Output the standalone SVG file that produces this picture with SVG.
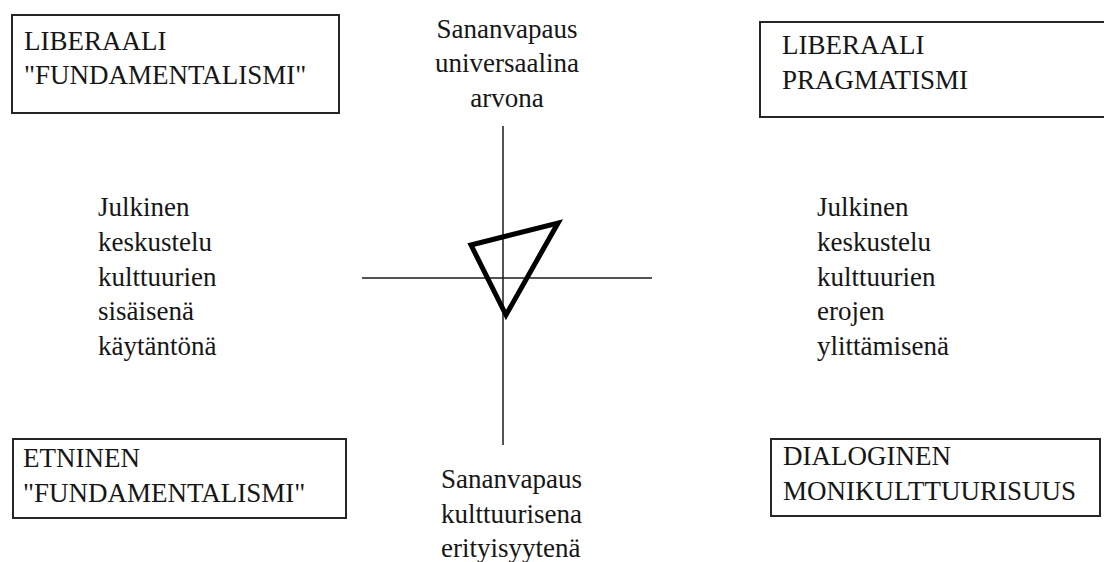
<svg xmlns="http://www.w3.org/2000/svg" width="1104" height="562" viewBox="0 0 1104 562">
<style>
text{font-size:27px;fill:#161616}
.box{fill:#fff;stroke:#262626;stroke-width:2}
.axis{stroke:#1a1a1a;stroke-width:1.5;fill:none}
.c{text-anchor:middle}
</style>
<rect width="1104" height="562" fill="#fff"/>
<g id="connectors">
<line class="axis" x1="503" y1="126" x2="503" y2="445"/>
<line class="axis" x1="362" y1="278" x2="652" y2="278"/>
</g>
<g id="triangle">
<polygon points="471,245 558,223 506,315" fill="none" stroke="#000" stroke-width="5" stroke-linejoin="miter"/>
</g>
<g font-family="Liberation Serif, DejaVu Serif, serif">
<g id="liberaali-fundamentalismi">
<rect class="box" x="12" y="15" width="327" height="98"/>
<text x="24" y="50">LIBERAALI</text>
<text x="24" y="84">"FUNDAMENTALISMI"</text>
</g>
<g id="liberaali-pragmatismi">
<rect class="box" x="760" y="22" width="360" height="95"/>
<text x="782" y="54">LIBERAALI</text>
<text x="782" y="89">PRAGMATISMI</text>
</g>
<g id="etninen-fundamentalismi">
<rect class="box" x="13" y="439" width="333" height="79"/>
<text x="23" y="467">ETNINEN</text>
<text x="23" y="502">"FUNDAMENTALISMI"</text>
</g>
<g id="dialoginen-monikulttuurisuus">
<rect class="box" x="771" y="439" width="329" height="77"/>
<text x="783" y="465">DIALOGINEN</text>
<text x="783" y="500">MONIKULTTUURISUUS</text>
</g>
<g id="top-label">
<text class="c" x="507" y="38">Sananvapaus</text>
<text class="c" x="507" y="72">universaalina</text>
<text class="c" x="507" y="107">arvona</text>
</g>
<g id="bottom-label">
<text x="441" y="488">Sananvapaus</text>
<text x="441" y="523">kulttuurisena</text>
<text x="441" y="557">erityisyytenä</text>
</g>
<g id="left-label">
<text x="98" y="216">Julkinen</text>
<text x="98" y="251">keskustelu</text>
<text x="98" y="286">kulttuurien</text>
<text x="98" y="320">sisäisenä</text>
<text x="98" y="355">käytäntönä</text>
</g>
<g id="right-label">
<text x="817" y="216">Julkinen</text>
<text x="817" y="251">keskustelu</text>
<text x="817" y="286">kulttuurien</text>
<text x="817" y="320">erojen</text>
<text x="817" y="355">ylittämisenä</text>
</g>
</g>
</svg>
